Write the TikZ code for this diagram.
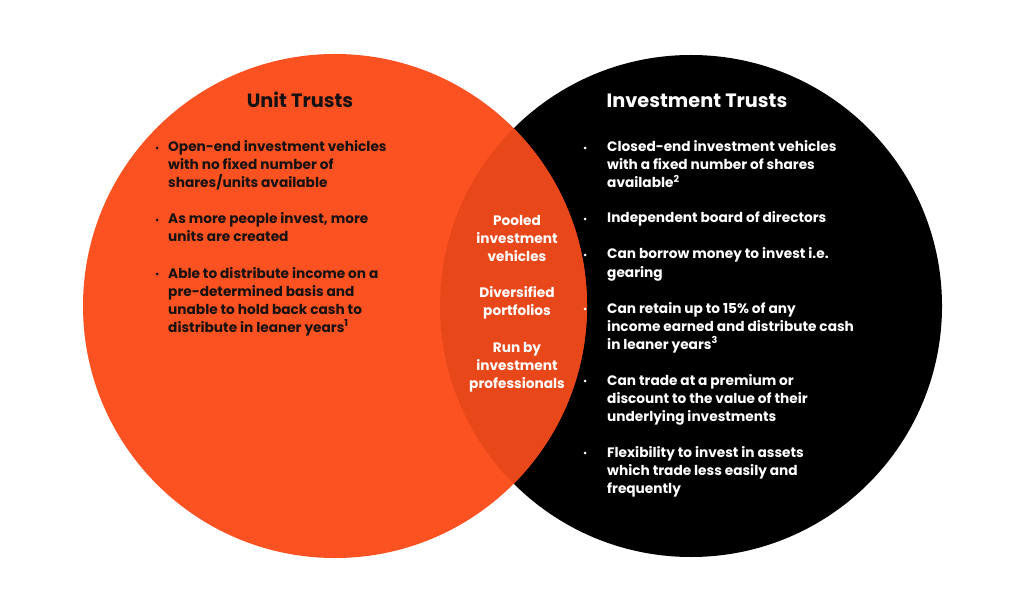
\documentclass[tikz,border=0pt]{standalone}
\usepackage{fontspec}
\setmainfont{Poppins}
\definecolor{ut}{RGB}{252,81,32}
\definecolor{lens}{RGB}{232,71,26}
\definecolor{ink}{RGB}{22,18,18}
\begin{document}
\begin{tikzpicture}[x=1pt,y=-1pt,
  ttl/.style={font=\fontsize{19.3}{22}\selectfont\bfseries, anchor=base, inner sep=0pt},
  body/.style={font=\fontsize{13.7}{18}\selectfont\bfseries, align=left, anchor=base west, inner sep=0pt},
  mid/.style={font=\fontsize{13.7}{18}\selectfont\bfseries, align=center, anchor=base, inner sep=0pt, text=white},
  bul/.style={circle, inner sep=0pt, minimum size=3pt},
  lb/.style={bul, fill=ink},
  rb/.style={bul, fill=white},
  lt/.style={body, text=ink},
  rt/.style={body, text=white}]
\useasboundingbox[fill=white] (0,0) rectangle (1024,609);
% circles
\fill[black] (691,306) circle[radius=251pt];
\fill[ut] (335,306) circle[radius=252pt];
\begin{scope}
  \clip (691,306) circle[radius=251pt];
  \fill[lens] (335,306) circle[radius=252pt];
\end{scope}
% titles (anchor = baseline)
\node[ttl, text=ink] (ut) at (300,108) {Unit Trusts};
\node[ttl, text=white] (it) at (697,108) {Investment Trusts};
% left bullets (text anchor = baseline of last line)
\node[lb] (lb1) at (157,148) {};
\node[lt] (l1) at (168,188) {Open-end investment vehicles\\with no fixed number of\\shares/units available};
\node[lb] (lb2) at (157,220) {};
\node[lt] (l2) at (168,242) {As more people invest, more\\units are created};
\node[lb] (lb3) at (157,274) {};
\node[lt] (l3) at (168,332) {Able to distribute income on a\\pre-determined basis and\\unable to hold back cash to\\distribute in leaner years\textsuperscript{1}};
% middle
\node[mid] (m1) at (517,262) {Pooled\\investment\\vehicles};
\node[mid] (m2) at (517,316) {Diversified\\portfolios};
\node[mid] (m3) at (517,388) {Run by\\investment\\professionals};
% right bullets
\node[rb] (rb1) at (585,148) {};
\node[rt] (r1) at (607,188) {Closed-end investment vehicles\\with a fixed number of shares\\available\textsuperscript{2}};
\node[rb] (rb2) at (585,219) {};
\node[rt] (r2) at (607,223) {Independent board of directors};
\node[rb] (rb3) at (585,255) {};
\node[rt] (r3) at (607,277) {Can borrow money to invest i.e.\\gearing};
\node[rb] (rb4) at (585,309) {};
\node[rt] (r4) at (607,349) {Can retain up to 15\% of any\\income earned and distribute cash\\in leaner years\textsuperscript{3}};
\node[rb] (rb5) at (585,381) {};
\node[rt] (r5) at (607,421) {Can trade at a premium or\\discount to the value of their\\underlying investments};
\node[rb] (rb6) at (585,453) {};
\node[rt] (r6) at (607,493) {Flexibility to invest in assets\\which trade less easily and\\frequently};
\end{tikzpicture}
\end{document}
